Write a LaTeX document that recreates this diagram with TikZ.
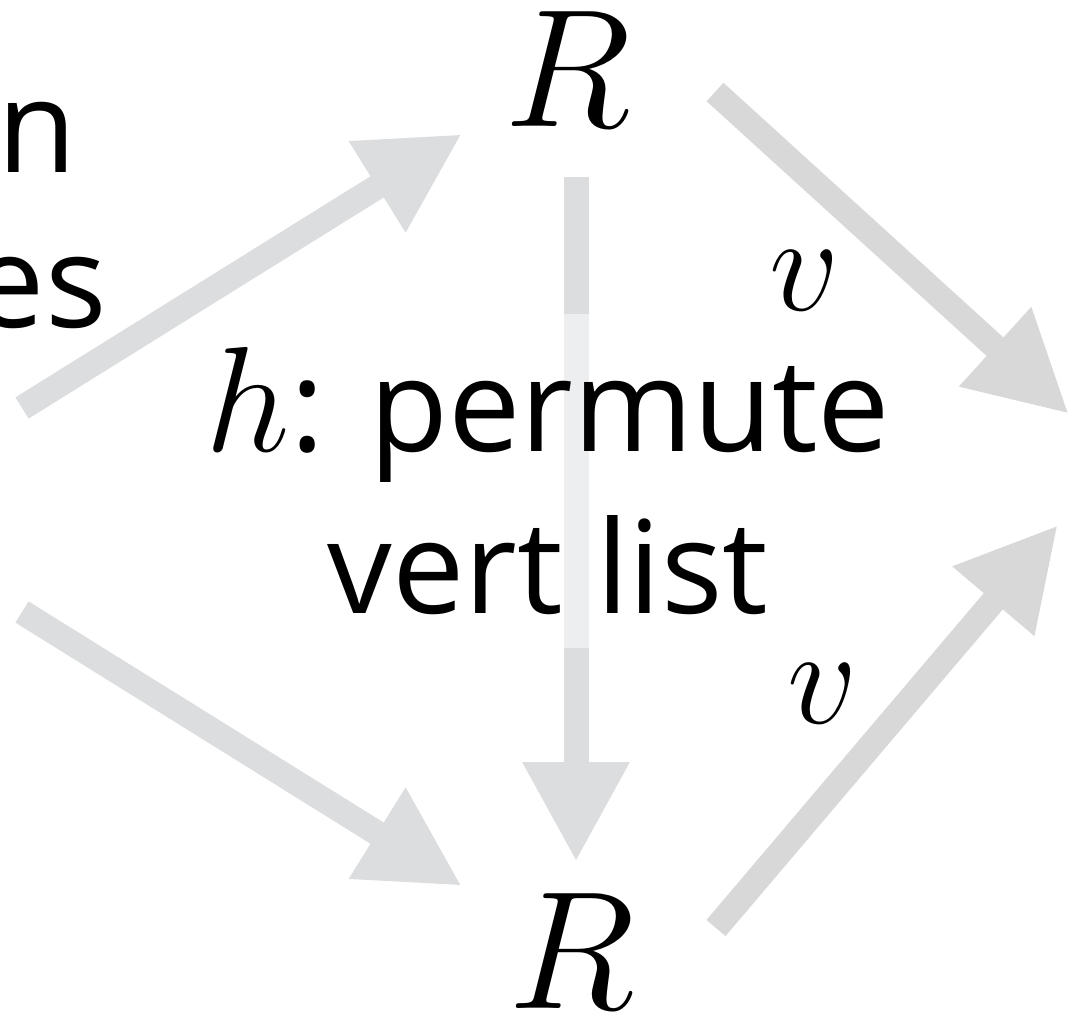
\RequirePackage{fix-cm}
\documentclass[tikz,border=0pt]{standalone}
\usepackage{fontspec}
\setmainfont{Open Sans}
\usepackage{tikz}
\usetikzlibrary{arrows.meta, positioning, calc}

\definecolor{inarrow}{RGB}{220,221,223}
\definecolor{outarrow}{RGB}{216,216,216}

\begin{document}
\begin{tikzpicture}[
  x=1pt, y=-1pt,
  every node/.style={inner sep=0pt},
  txt/.style={font=\fontsize{129}{162}\selectfont},
  obj/.style={font=\fontsize{168}{168}\selectfont},
  map/.style={font=\fontsize{138}{138}\selectfont},
  arr/.style={line width=25pt, -{Triangle[length=100pt, width=100pt]}},
]
  \useasboundingbox (0,0) rectangle (1070,1022);

  % objects
  \node[obj, anchor=base] (rtop) at (568,127) {$R$};
  \node[obj, anchor=base] (rbot) at (572,1008) {$R$};

  % cut-off source label
  \node[txt, anchor=base east] (srcn) at (77,172) {n};
  \node[txt, anchor=base east] (srces) at (107,327) {es};

  \coordinate (inA) at (22,408);
  \coordinate (inB) at (22,612);
  \coordinate (tipA) at (462,134);
  \coordinate (tipB) at (462,886);
  \coordinate (tailC) at (715,92);
  \coordinate (tailD) at (716,928);
  \coordinate (outC) at (1069,414);
  \coordinate (outD) at (1058,525);

  \draw[arr, inarrow] (inA) -- (tipA);
  \draw[arr, inarrow] (inB) -- (tipB);
  \draw[arr, inarrow, shorten <=50pt, shorten >=31pt]
    ([xshift=8pt]rtop.south) -- ([xshift=4pt]rbot.north);

  \node[txt, align=center, fill=white, fill opacity=0.5, text opacity=1,
        inner ysep=33pt] (perm) at (548,481)
       {{\fontsize{150}{162}\selectfont$h$}: permute\\vert list};

  \draw[arr, outarrow] (tailC) -- (outC);
  \draw[arr, outarrow] (tailD) -- (outD);

  \node[map, anchor=base] (vup) at (805,310) {$v$};
  \node[map, anchor=base] (vdn) at (823,723) {$v$};
\end{tikzpicture}
\end{document}
